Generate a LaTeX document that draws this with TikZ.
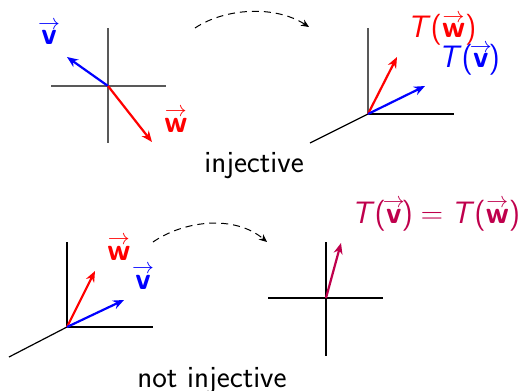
\documentclass[tikz,border=0pt]{standalone}
\usetikzlibrary{arrows.meta}
\definecolor{same}{rgb}{0.75,0,0.3}
\newcommand{\vecb}[1]{\ooalign{\textsf{\textbf{#1}}\cr\hidewidth\raisebox{0.5em}{$\scriptstyle\rightarrow$}\hidewidth\cr}}
\newcommand{\Tof}[1]{\textsf{\textit{T}(}\vecb{#1}\textsf{)}}
\begin{document}
\begin{tikzpicture}[>=Stealth,x=0.5pt,y=-0.5pt,
  axis/.style={black!65,line width=0.6pt},
  depth/.style={black,line width=0.6pt},
  vect/.style={line width=1.1pt,arrows={-Stealth[length=5.5pt,width=4.5pt]}},
  lab/.style={font=\sffamily\fontsize{15.5}{18}\selectfont,inner sep=0pt,anchor=base west},
  map/.style={dash pattern=on 3.5pt off 2.5pt,line width=0.5pt,arrows={-Stealth[length=4pt,width=3.5pt]}}]
\useasboundingbox (0,0) rectangle (520,391);
% injective: before
\coordinate (O1) at (108,86);
\draw[axis] (51,86)--(166,86) (108,28)--(108,143);
\coordinate (v1) at (67,57);
\coordinate (w1) at (152,142);
\draw[vect,blue] (O1)--(v1);
\draw[vect,red] (O1)--(w1);
\node[lab,blue] (lv1) at (41,45) {\vecb{v}};
\node[lab,red] (lw1) at (164,132) {\vecb{w}};
% injective: after
\coordinate (O2) at (368,114);
\draw[axis] (368,28)--(O2);
\draw[depth] (O2)--(454,114);
\draw[depth] (310,143)--(O2);
\coordinate (w2) at (397,57);
\coordinate (v2) at (425,86);
\draw[vect,red] (O2)--(w2);
\draw[vect,blue] (O2)--(v2);
\node[lab,red] (lw2) at (407,38) {\Tof{w}};
\node[lab,blue] (lv2) at (438,68) {\Tof{v}};
\coordinate (s1) at (195,28);
\coordinate (e1) at (309,27);
\draw[map] (s1) .. controls (225,8) and (275,5) .. (e1);
\node[lab] (inj) at (204,172) {injective};
% not injective: before
\coordinate (O3) at (67,327);
\draw[depth] (67,242)--(O3)--(153,327);
\draw[depth] (9,357)--(O3);
\coordinate (w3) at (95,271);
\coordinate (v3) at (124,300);
\draw[vect,red] (O3)--(w3);
\draw[vect,blue] (O3)--(v3);
\node[lab,red] (lw3) at (107,260) {\vecb{w}};
\node[lab,blue] (lv3) at (135,289) {\vecb{v}};
% not injective: after
\coordinate (O4) at (326,298);
\draw[depth] (268,298)--(383,298) (326,242)--(326,356);
\coordinate (t4) at (341,243);
\draw[vect,same] (O4)--(t4);
\node[lab,same] (lt4) at (351,223) {\Tof{v}\hspace{0.25em}=\hspace{0.25em}\Tof{w}};
\coordinate (s2) at (153,242);
\coordinate (e2) at (267,242);
\draw[map] (s2) .. controls (185,220) and (235,215) .. (e2);
\node[lab] (ninj) at (137,387) {not injective};
\end{tikzpicture}
\end{document}
